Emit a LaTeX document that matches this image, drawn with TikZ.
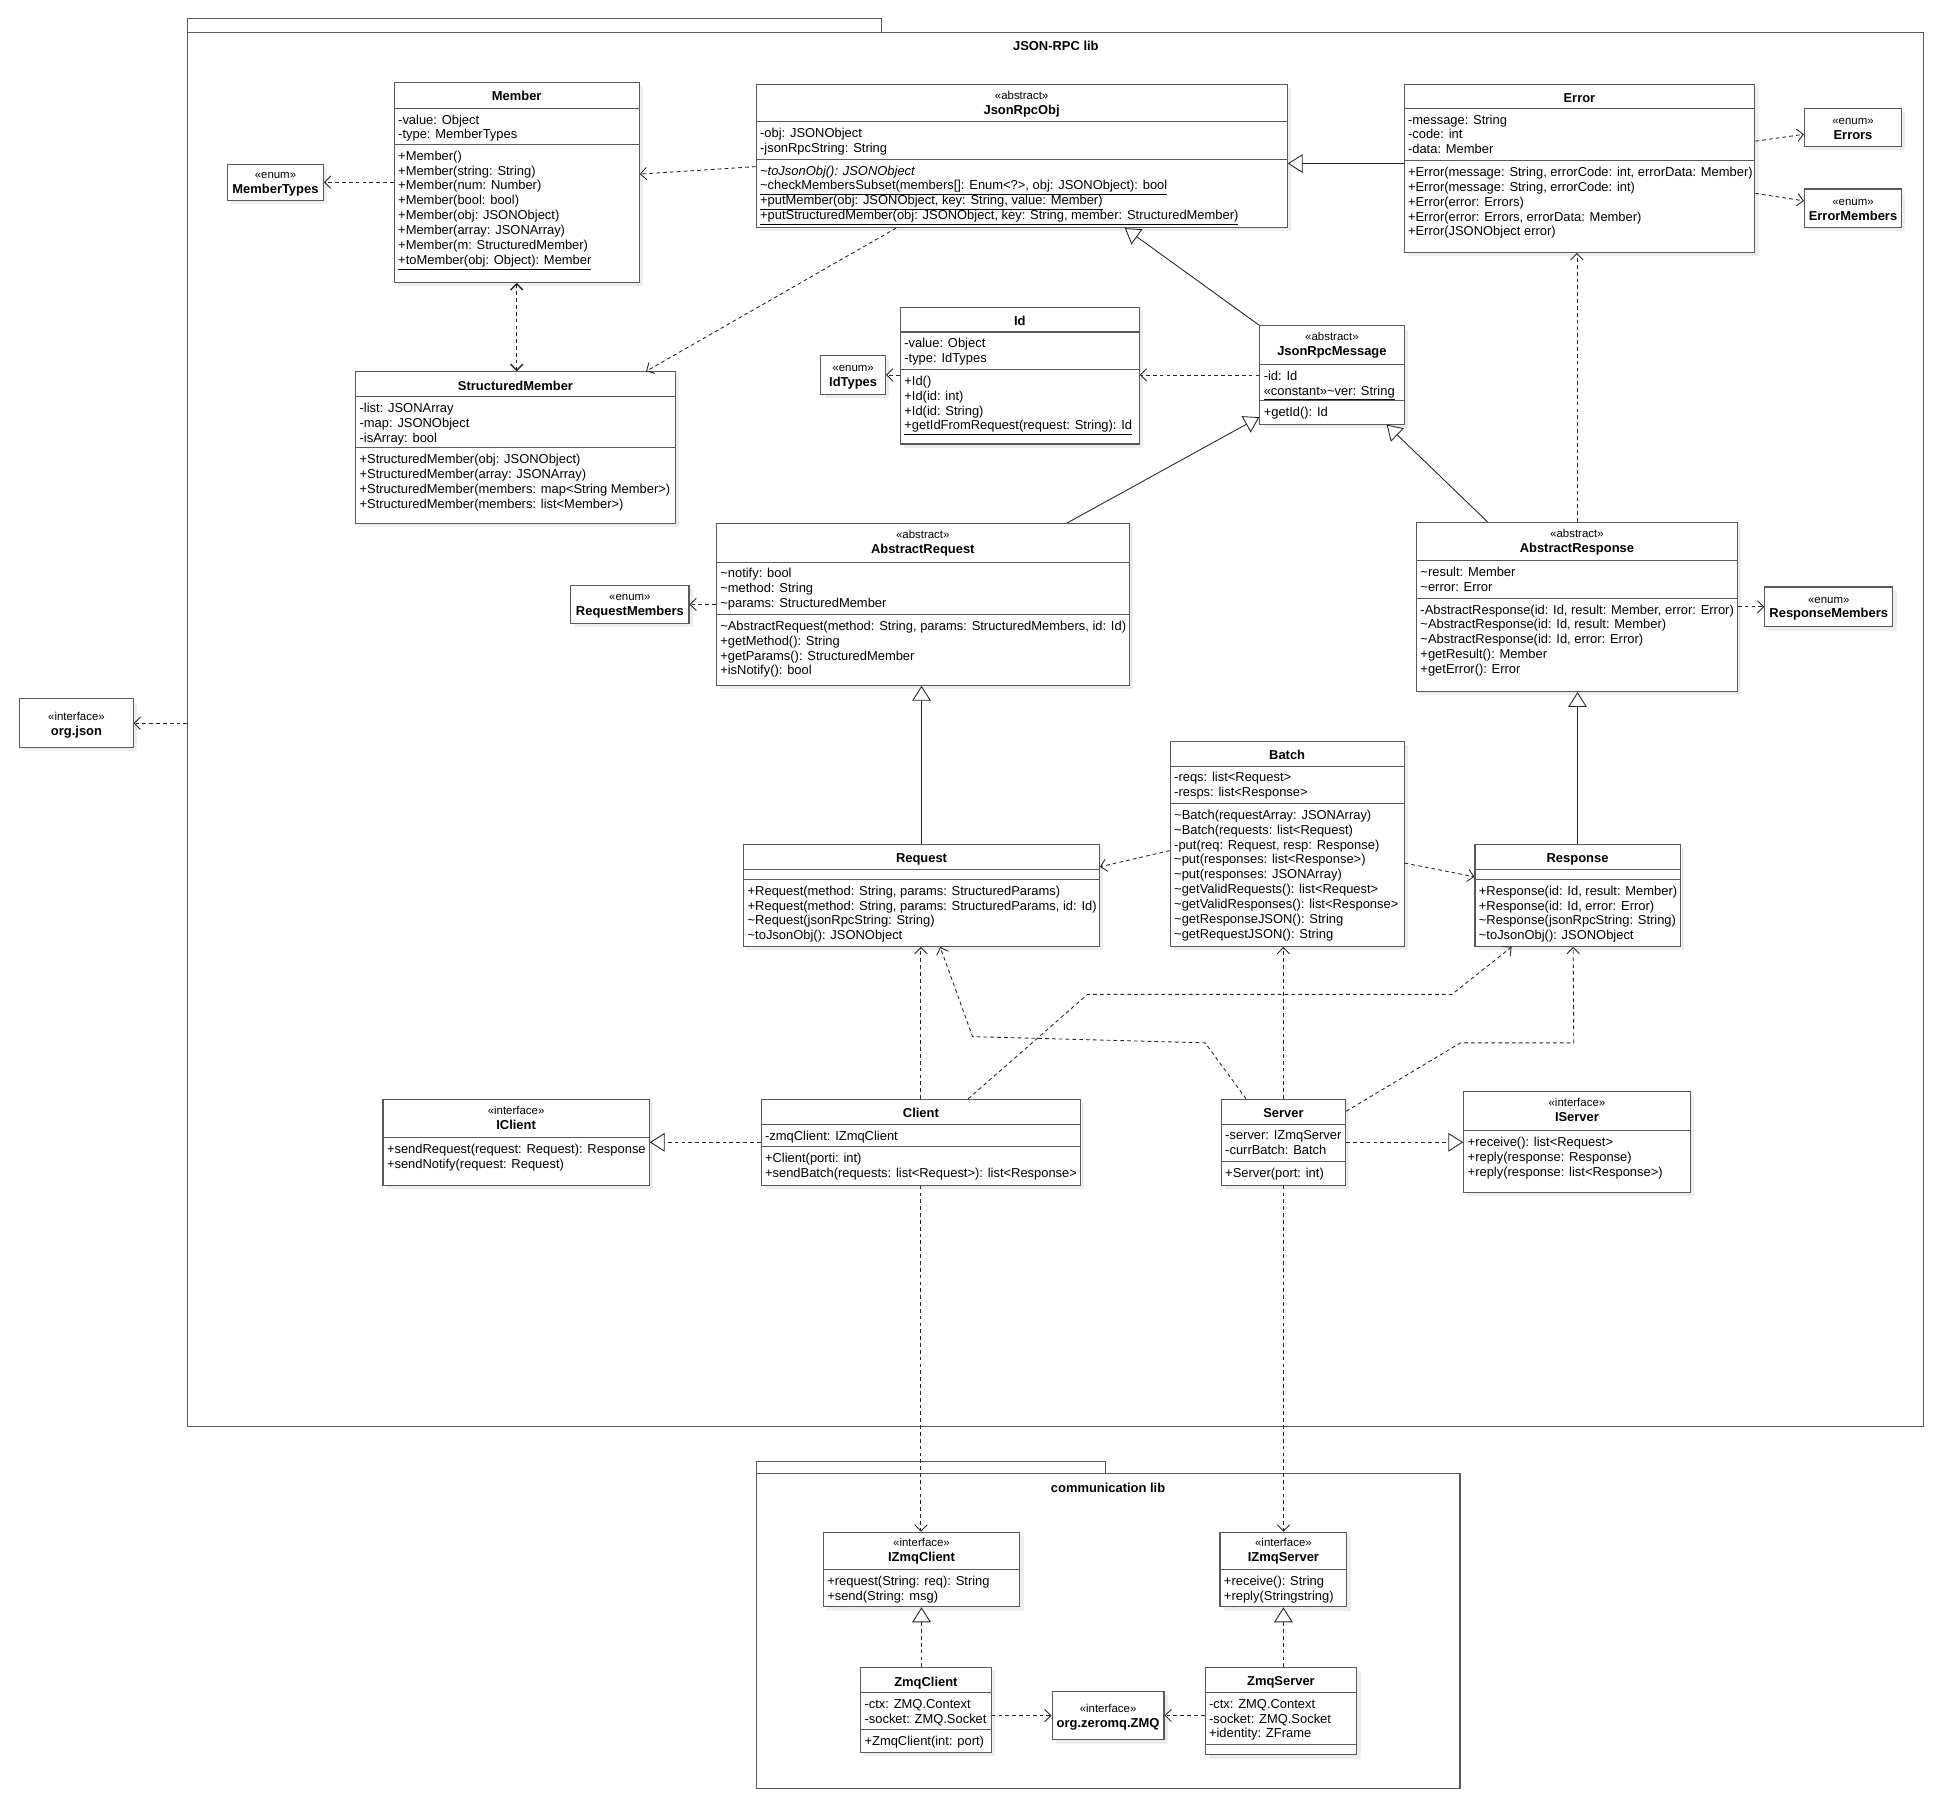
\documentclass[tikz,border=0pt]{standalone}
\usepackage{fontspec}
\setmainfont{Liberation Sans}
\usetikzlibrary{arrows.meta, fit, calc, shadows}

\colorlet{boxline}{black!65}
\newcommand{\umlfont}{\fontsize{10.4}{12}\selectfont}
\newcommand{\tlde}{\textasciitilde}
\newcommand{\stereo}[1]{{\mdseries\fontsize{9.2}{12}\selectfont «#1»}\\}

% class box: name, top-left x y, bottom-right x y, separator heights
\newcommand{\umlclass}[6]{%
  \node[umlbox, fit={(#2,#3) (#4,#5)}] (#1) {};
  \foreach \s [count=\i] in {#6} {
    \draw[umlline] (#2,\s) -- (#4,\s);
    \coordinate (#1-\i) at (#2,\s);
  }
}
% box without compartments: name, corners, text
\newcommand{\umlenum}[6]{%
  \node[umlbox, fit={(#2,#3) (#4,#5)}] (#1) {};
  \node[font=\umlfont\bfseries, align=center, yshift=-1.5pt] at (#1) {#6};
}

\begin{document}
\begin{tikzpicture}[
    x=1pt, y=-1pt,
    >={Straight Barb[length=5pt,width=10pt]},
    umlbox/.style={draw=boxline, line width=0.9pt, fill=white, inner sep=0pt,
        drop shadow={shadow xshift=3pt, shadow yshift=-3pt, fill=black, opacity=0.07}},
    umlline/.style={draw=boxline, line width=0.9pt},
    pkgbox/.style={draw=boxline, line width=0.9pt, inner sep=0pt},
    umltitle/.style={anchor=north, font=\umlfont\bfseries, align=center, inner xsep=3pt, inner ysep=5.5pt},
    title1/.style={umltitle, inner ysep=7.5pt},
    umltext/.style={anchor=north west, font=\umlfont, align=left, inner xsep=3pt, inner ysep=5pt},
    dep/.style={draw=black!85, line width=0.7pt, dash pattern=on 3pt off 2.5pt, ->},
    gen/.style={draw=black!85, line width=0.7pt, -{Triangle[length=12pt,width=15pt,fill=white]}},
    real/.style={gen, dash pattern=on 3pt off 2.5pt}
]
\useasboundingbox[fill=white] (0,0) rectangle (1568,1453);

% Packages
\draw[pkgbox] (151,15) rectangle (709,26);
\node[pkgbox, fit={(151,26) (1547,1147)}] (jsonlib) {};
\node[title1] at (jsonlib.north) {JSON-RPC lib};

\draw[pkgbox] (608,1175) rectangle (889,1185);
\node[pkgbox, fit={(608,1185) (1174,1438)}] (commlib) {};
\node[title1] at (commlib.north) {communication lib};

% Enums and outside interfaces
\umlenum{mtypes}{183}{132}{260}{161}{\stereo{enum}MemberTypes}
\umlenum{errors}{1451}{87}{1529}{118}{\stereo{enum}Errors}
\umlenum{errmembers}{1451}{152}{1529}{183}{\stereo{enum}ErrorMembers}
\umlenum{idtypes}{660}{286}{712}{317}{\stereo{enum}IdTypes}
\umlenum{reqmembers}{459}{471}{554}{501}{\stereo{enum}RequestMembers}
\umlenum{respmembers}{1419}{472}{1522}{504}{\stereo{enum}ResponseMembers}
\umlenum{orgjson}{16}{562}{107}{601}{\stereo{interface}org.json}
\umlenum{zmq}{846}{1360}{936}{1399}{\stereo{interface}org.zeromq.ZMQ}

% Member
\umlclass{member}{317}{66}{514}{227}{87,116}
\node[title1] at (member.north) {Member};
\node[umltext] at (member-1) {-value: Object\\-type: MemberTypes};
\node[umltext] at (member-2) {+Member()\\+Member(string: String)\\+Member(num: Number)\\+Member(bool: bool)\\+Member(obj: JSONObject)\\+Member(array: JSONArray)\\+Member(m: StructuredMember)\\\underline{+toMember(obj: Object): Member}};

% JsonRpcObj
\umlclass{jsonobj}{608}{68}{1035}{183}{98,128}
\node[umltitle] at (jsonobj.north) {\stereo{abstract}JsonRpcObj};
\node[umltext] at (jsonobj-1) {-obj: JSONObject\\-jsonRpcString: String};
\node[umltext] at (jsonobj-2) {\textit{\tlde toJsonObj(): JSONObject}\\\underline{\tlde checkMembersSubset(members[]: Enum<?>, obj: JSONObject): bool}\\\underline{+putMember(obj: JSONObject, key: String, value: Member)}\\\underline{+putStructuredMember(obj: JSONObject, key: String, member: StructuredMember)}};

% Error
\umlclass{error}{1129}{68}{1411}{203}{87,129}
\node[title1] at (error.north) {Error};
\node[umltext] at (error-1) {-message: String\\-code: int\\-data: Member};
\node[umltext] at (error-2) {+Error(message: String, errorCode: int, errorData: Member)\\+Error(message: String, errorCode: int)\\+Error(error: Errors)\\+Error(error: Errors, errorData: Member)\\+Error(JSONObject error)};

% StructuredMember
\umlclass{smember}{286}{299}{543}{421}{319,360}
\node[title1] at (smember.north) {StructuredMember};
\node[umltext] at (smember-1) {-list: JSONArray\\-map: JSONObject\\-isArray: bool};
\node[umltext] at (smember-2) {+StructuredMember(obj: JSONObject)\\+StructuredMember(array: JSONArray)\\+StructuredMember(members: map<String Member>)\\+StructuredMember(members: list<Member>)};

% Id
\umlclass{id}{724}{247}{916}{357}{267,297}
\node[title1] at (id.north) {Id};
\node[umltext] at (id-1) {-value: Object\\-type: IdTypes};
\node[umltext] at (id-2) {+Id()\\+Id(id: int)\\+Id(id: String)\\\underline{+getIdFromRequest(request: String): Id}};

% JsonRpcMessage
\umlclass{jsonmsg}{1013}{262}{1129}{341}{293,322}
\node[umltitle] at (jsonmsg.north) {\stereo{abstract}JsonRpcMessage};
\node[umltext] at (jsonmsg-1) {-id: Id\\\underline{«constant»\tlde ver: String}};
\node[umltext] at (jsonmsg-2) {+getId(): Id};

% AbstractRequest
\umlclass{areq}{576}{421}{908}{551}{452,494}
\node[umltitle] at (areq.north) {\stereo{abstract}AbstractRequest};
\node[umltext] at (areq-1) {\tlde notify: bool\\\tlde method: String\\\tlde params: StructuredMember};
\node[umltext] at (areq-2) {\tlde AbstractRequest(method: String, params: StructuredMembers, id: Id)\\+getMethod(): String\\+getParams(): StructuredMember\\+isNotify(): bool};

% AbstractResponse
\umlclass{aresp}{1139}{420}{1397}{556}{451,481}
\node[umltitle] at (aresp.north) {\stereo{abstract}AbstractResponse};
\node[umltext] at (aresp-1) {\tlde result: Member\\\tlde error: Error};
\node[umltext] at (aresp-2) {-AbstractResponse(id: Id, result: Member, error: Error)\\\tlde AbstractResponse(id: Id, result: Member)\\\tlde AbstractResponse(id: Id, error: Error)\\+getResult(): Member\\+getError(): Error};

% Batch
\umlclass{batch}{941}{596}{1129}{761}{616,646}
\node[title1] at (batch.north) {Batch};
\node[umltext] at (batch-1) {-reqs: list<Request>\\-resps: list<Response>};
\node[umltext] at (batch-2) {\tlde Batch(requestArray: JSONArray)\\\tlde Batch(requests: list<Request)\\-put(req: Request, resp: Response)\\\tlde put(responses: list<Response>)\\\tlde put(responses: JSONArray)\\\tlde getValidRequests(): list<Request>\\\tlde getValidResponses(): list<Response>\\\tlde getResponseJSON(): String\\\tlde getRequestJSON(): String};

% Request, Response
\umlclass{request}{598}{679}{884}{761}{699,707}
\node[title1] at (request.north) {Request};
\node[umltext] at (request-2) {+Request(method: String, params: StructuredParams)\\+Request(method: String, params: StructuredParams, id: Id)\\\tlde Request(jsonRpcString: String)\\\tlde toJsonObj(): JSONObject};

\umlclass{response}{1186}{679}{1351}{761}{699,707}
\node[title1] at (response.north) {Response};
\node[umltext] at (response-2) {+Response(id: Id, result: Member)\\+Response(id: Id, error: Error)\\\tlde Response(jsonRpcString: String)\\\tlde toJsonObj(): JSONObject};

% Client side
\umlclass{iclient}{308}{884}{522}{953}{915}
\node[umltitle] at (iclient.north) {\stereo{interface}IClient};
\node[umltext] at (iclient-1) {+sendRequest(request: Request): Response\\+sendNotify(request: Request)};

\umlclass{client}{612}{884}{869}{953}{904,922}
\node[title1] at (client.north) {Client};
\node[umltext] at (client-1) {-zmqClient: IZmqClient};
\node[umltext] at (client-2) {+Client(porti: int)\\+sendBatch(requests: list<Request>): list<Response>};

% Server side
\umlclass{server}{982}{884}{1082}{953}{904,934}
\node[title1] at (server.north) {Server};
\node[umltext] at (server-1) {-server: IZmqServer\\-currBatch: Batch};
\node[umltext] at (server-2) {+Server(port: int)};

\umlclass{iserver}{1177}{878}{1359}{959}{909}
\node[umltitle] at (iserver.north) {\stereo{interface}IServer};
\node[umltext] at (iserver-1) {+receive(): list<Request>\\+reply(response: Response)\\+reply(response: list<Response>)};

% communication lib
\umlclass{izclient}{662}{1232}{820}{1292}{1262}
\node[umltitle] at (izclient.north) {\stereo{interface}IZmqClient};
\node[umltext] at (izclient-1) {+request(String: req): String\\+send(String: msg)};

\umlclass{izserver}{981}{1232}{1083}{1292}{1262}
\node[umltitle] at (izserver.north) {\stereo{interface}IZmqServer};
\node[umltext] at (izserver-1) {+receive(): String\\+reply(Stringstring)};

\umlclass{zclient}{692}{1341}{797}{1409}{1361,1391}
\node[title1] at (zclient.north) {ZmqClient};
\node[umltext] at (zclient-1) {-ctx: ZMQ.Context\\-socket: ZMQ.Socket};
\node[umltext] at (zclient-2) {+ZmqClient(int: port)};

\umlclass{zserver}{969}{1341}{1091}{1411}{1361,1403}
\node[title1] at (zserver.north) {ZmqServer};
\node[umltext] at (zserver-1) {-ctx: ZMQ.Context\\-socket: ZMQ.Socket\\+identity: ZFrame};

% Connectors in JSON-RPC lib
\draw[dep] (member.west |- mtypes.east) -- (mtypes.east);
\draw[dep] ([yshift=-8.5pt]jsonobj.west) -- ([yshift=6.5pt]member.east);
\draw[dep, <->, line width=1.1pt] (member.south) -- (member.south |- smember.north);
\draw[dep] ([xshift=-101pt]jsonobj.south) -- ([xshift=105pt]smember.north);
\draw[gen] ([yshift=4pt]error.west) -- ([yshift=4pt]error.west -| jsonobj.east);
\draw[dep] ([yshift=22pt]error.east) -- ([yshift=-5.5pt]errors.west);
\draw[dep] ([yshift=-20pt]error.east) -- ([yshift=6pt]errmembers.west);
\draw[gen] (jsonmsg.north west) -- ([xshift=83pt]jsonobj.south);
\draw[dep] (jsonmsg.west) -- (jsonmsg.west -| id.east);
\draw[dep] (id.west |- idtypes.east) -- (idtypes.east);
\draw[gen] ([xshift=116pt]areq.north) -- ([yshift=6pt]jsonmsg.south west);
\draw[gen] ([xshift=-72pt]aresp.north) -- ([xshift=44pt]jsonmsg.south);
\draw[dep] (aresp.north) -- (aresp.north |- error.south);
\draw[dep] (areq.west |- reqmembers.east) -- (reqmembers.east);
\draw[dep] (aresp.east |- respmembers.west) -- (respmembers.west);
\draw[dep] (jsonlib.west |- orgjson.east) -- (orgjson.east);
\draw[gen] (request.north) -- (request.north |- areq.south);
\draw[gen] (response.north) -- (response.north |- aresp.south);
\draw[dep] ([yshift=-5.5pt]batch.west) -- ([yshift=23pt]request.east);
\draw[dep] ([yshift=-15.5pt]batch.east) -- ([yshift=15pt]response.west);

% Client and Server links
\draw[dep] (client.north) -- (client.north |- request.south);
\draw[dep] ([xshift=38pt]client.north) -- ++(96,-84) -- ++(293,0) -- ([xshift=-53pt]response.south);
\draw[dep] ([xshift=-30pt]server.north) -- ++(-33,-45) -- ++(-187,-5) -- ([xshift=15pt]request.south);
\draw[dep] ([yshift=-10pt]server.north east) -- ++(92,-55) -- ++(91,0) -- ([xshift=-3.5pt]response.south);
\draw[dep] (server.north) -- (server.north |- batch.south);
\draw[real] (client.west |- iclient.east) -- (iclient.east);
\draw[real] (server.east |- iserver.west) -- (iserver.west);
\draw[dep] (client.south) -- (client.south |- izclient.north);
\draw[dep] (server.south) -- (server.south |- izserver.north);

% communication lib links
\draw[real] (izclient.south |- zclient.north) -- (izclient.south);
\draw[real] (izserver.south |- zserver.north) -- (izserver.south);
\draw[dep] (zclient.east |- zmq.west) -- (zmq.west);
\draw[dep] (zserver.west |- zmq.east) -- (zmq.east);
\end{tikzpicture}
\end{document}
